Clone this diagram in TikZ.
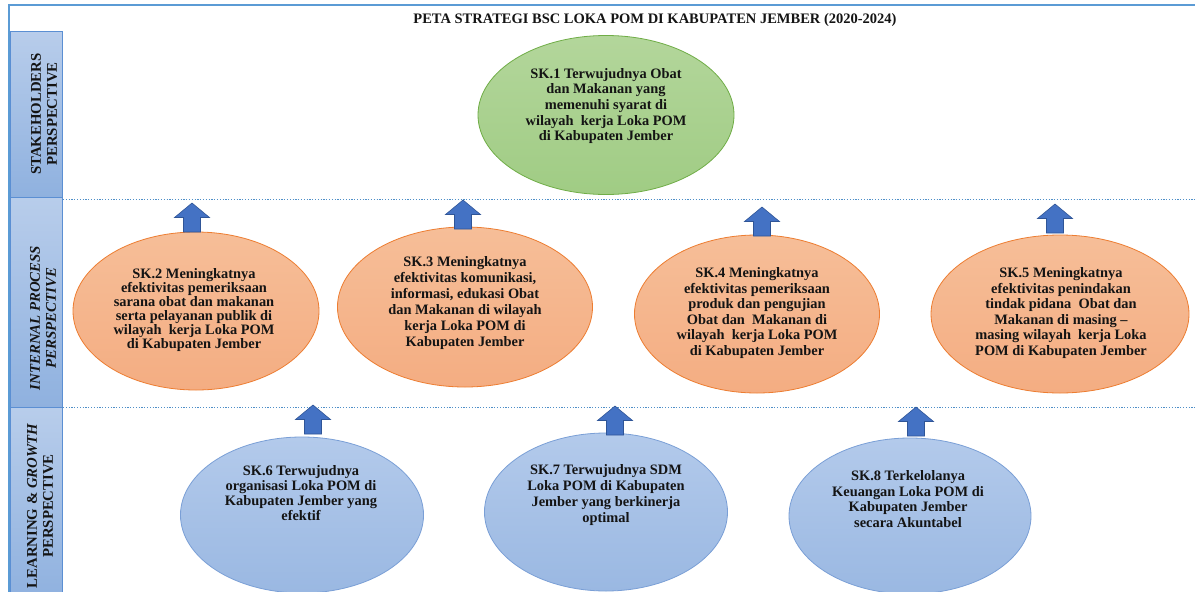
\documentclass[tikz,border=0pt]{standalone}
\usepackage{fontspec}
\setmainfont{Liberation Serif}
\usetikzlibrary{shapes.geometric,shadings}
\definecolor{frameblue}{HTML}{5B9BD5}
\definecolor{dotblue}{HTML}{4F8FC8}
\definecolor{sidetop}{HTML}{B8CDEB}
\definecolor{sidebot}{HTML}{8FB1DF}
\definecolor{sideedge}{HTML}{5B8FD3}
\definecolor{greentop}{HTML}{B3D69B}
\definecolor{greenbot}{HTML}{A0CC84}
\definecolor{greenedge}{HTML}{70AD47}
\definecolor{orgtop}{HTML}{F6BE98}
\definecolor{orgbot}{HTML}{F4AD82}
\definecolor{orgedge}{HTML}{ED7D31}
\definecolor{blutop}{HTML}{B3CAEB}
\definecolor{blubot}{HTML}{9AB8E2}
\definecolor{bluedge}{HTML}{7A9FD6}
\definecolor{arrfill}{HTML}{4472C4}
\definecolor{arredge}{HTML}{2F5597}
\tikzset{
  x=1pt, y=-1pt,
  goal/.style={ellipse, inner sep=0pt, line width=0.8pt},
  greengoal/.style={goal, draw=greenedge, top color=greentop, bottom color=greenbot},
  orggoal/.style={goal, draw=orgedge, top color=orgtop, bottom color=orgbot},
  blugoal/.style={goal, draw=bluedge, top color=blutop, bottom color=blubot},
  goaltext/.style={align=center, inner sep=0pt, text=black!92},
  sidelabel/.style={align=center, inner sep=0pt, rotate=90, text=black!92, font=\bfseries\fontsize{14.8}{16}\selectfont},
  sideband/.style={draw=sideedge, line width=0.8pt, top color=sidetop, bottom color=sidebot},
  divider/.style={draw=dotblue, dash pattern=on 1.2pt off 1.6pt, line width=0.9pt},
  blockarrow/.style={draw=arredge, fill=arrfill, line width=0.6pt, line join=miter},
  uparr/.pic={\path[blockarrow] (-8.5,29) -- (-8.5,14.5) -- (-17.5,14.5) -- (0,0) -- (17.5,14.5) -- (8.5,14.5) -- (8.5,29) -- cycle;}
}
\newcommand{\gfont}[1]{\bfseries\fontsize{14.4}{#1}\selectfont}
\begin{document}
\begin{tikzpicture}
\useasboundingbox[fill=white] (0,0) rectangle (1195,592);
% outer frame
\draw[frameblue, line width=1.4pt] (1195,5) -- (9,5) -- (9,592);
% title
\node[font=\bfseries\fontsize{14.5}{16}\selectfont, inner sep=0pt, text=black!92] (title) at (655,20) {PETA STRATEGI BSC LOKA POM DI KABUPATEN JEMBER (2020-2024)};
% sidebar bands
\path[sideband] (10,31) rectangle (62,197);
\path[sideband] (10,197) rectangle (62,407);
\path[sideband] (10,407) rectangle (62,600);
\node[sidelabel] (lab1) at (44,114) {STAKEHOLDERS\\PERSPECTIVE};
\node[sidelabel] (lab2) at (43,318) {\itshape INTERNAL PROCESS\\\itshape PERSPECTIVE};
\node[sidelabel] (lab3) at (40,506) {LEARNING \& \textit{GROWTH}\\PERSPECTIVE};
% dividers
\draw[divider] (63,199) -- (1195,199);
\draw[divider] (63,407) -- (1195,407);
% goals
\node[greengoal, minimum width=256, minimum height=159] (sk1) at (606,115) {};
\node[goaltext, font=\gfont{15.6}] (t1) at (606,106) {SK.1 Terwujudnya Obat\\dan Makanan yang\\memenuhi syarat di\\wilayah\ \ kerja Loka POM\\di Kabupaten Jember};
\node[orggoal, minimum width=246, minimum height=158] (sk2) at (196,311) {};
\node[goaltext, font=\gfont{14}] (t2) at (194,310) {SK.2 Meningkatnya\\efektivitas pemeriksaan\\sarana obat dan makanan\\serta pelayanan publik di\\wilayah\ \ kerja Loka POM\\di Kabupaten Jember};
\node[orggoal, minimum width=255, minimum height=160] (sk3) at (465,307) {};
\node[goaltext, font=\gfont{16}] (t3) at (465,303) {SK.3 Meningkatnya\\efektivitas komunikasi,\\informasi, edukasi Obat\\dan Makanan di wilayah\\kerja Loka POM di\\Kabupaten Jember};
\node[orggoal, minimum width=245, minimum height=158] (sk4) at (757,314) {};
\node[goaltext, font=\gfont{15.6}] (t4) at (757,313) {SK.4 Meningkatnya\\efektivitas pemeriksaan\\produk dan pengujian\\Obat dan\ \ Makanan di\\wilayah\ \ kerja Loka POM\\di Kabupaten Jember};
\node[orggoal, minimum width=258, minimum height=158] (sk5) at (1060,314) {};
\node[goaltext, font=\gfont{15.6}] (t5) at (1061,313) {SK.5 Meningkatnya\\efektivitas penindakan\\tindak pidana\ \ Obat dan\\Makanan di masing –\\masing wilayah\ \ kerja Loka\\POM di Kabupaten Jember};
\node[blugoal, minimum width=243, minimum height=156] (sk6) at (302,515) {};
\node[goaltext, font=\gfont{15}] (t6) at (301,493) {SK.6 Terwujudnya\\organisasi Loka POM di\\Kabupaten Jember yang\\efektif};
\node[blugoal, minimum width=243, minimum height=158] (sk7) at (606,512) {};
\node[goaltext, font=\gfont{15.7}] (t7) at (606,495) {SK.7 Terwujudnya SDM\\Loka POM di Kabupaten\\Jember yang berkinerja\\optimal};
\node[blugoal, minimum width=242, minimum height=156] (sk8) at (910,516) {};
\node[goaltext, font=\gfont{15.7}] (t8) at (908,499) {SK.8 Terkelolanya\\Keuangan Loka POM di\\Kabupaten Jember\\secara Akuntabel};
% up arrows
\pic at (192,203) {uparr};
\pic at (463,200) {uparr};
\pic at (762,207) {uparr};
\pic at (1055,204) {uparr};
\pic at (313,405) {uparr};
\pic at (615,406) {uparr};
\pic at (916,407) {uparr};
\end{tikzpicture}
\end{document}
